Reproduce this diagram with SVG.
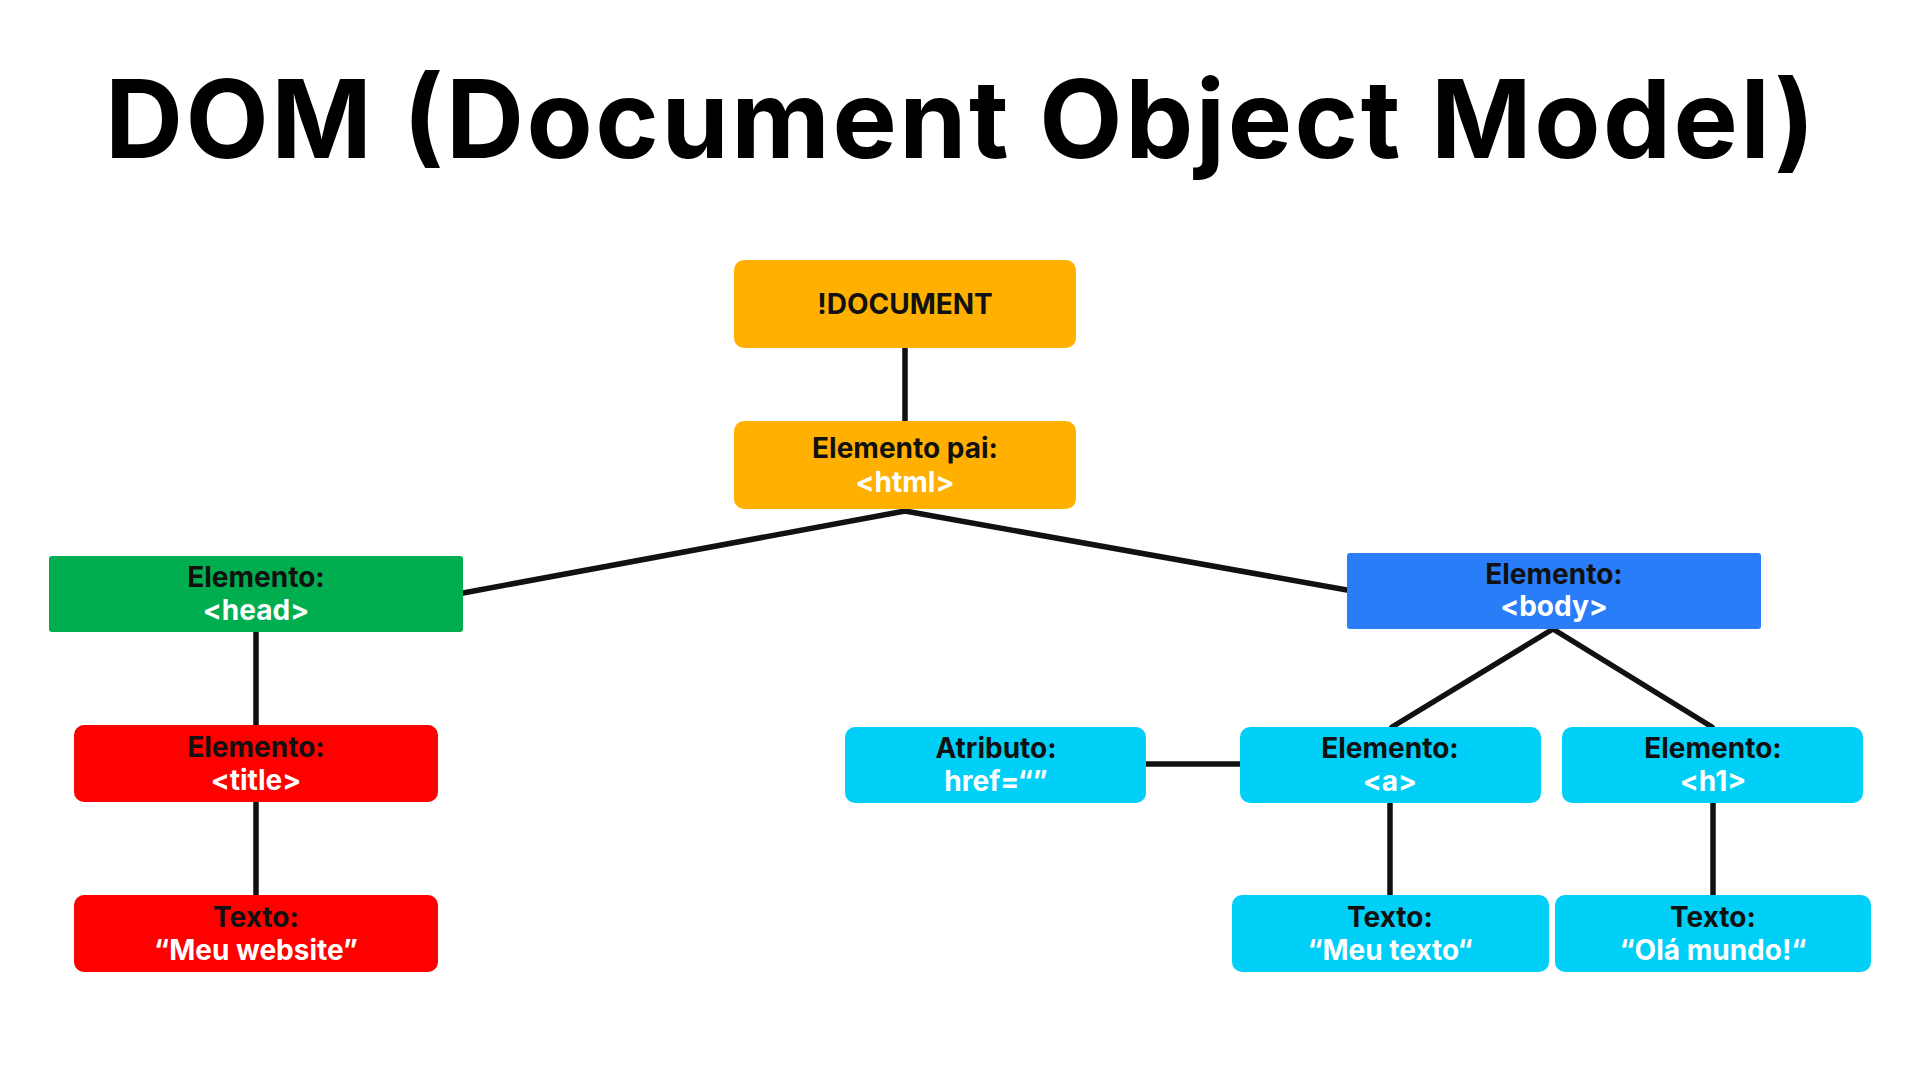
<svg xmlns="http://www.w3.org/2000/svg" width="1920" height="1080" viewBox="0 0 1920 1080">
<style>
.t1{font-family:Inter,"Noto Sans","Liberation Sans",sans-serif;font-weight:700;font-size:28px;fill:#111;text-anchor:middle}
.t2{font-family:Inter,"Noto Sans","Liberation Sans",sans-serif;font-weight:700;font-size:28px;fill:#fff;text-anchor:middle}
.orange{fill:#FFB000}
.green{fill:#00AE50}
.blue{fill:#2A7DF8}
.red{fill:#FF0000}
.cyan{fill:#00CFF7}
.conn line{stroke:#111;stroke-width:5.5;stroke-linecap:round}
</style>
<rect width="1920" height="1080" fill="#fff"/>
<text x="960" y="158" font-family="Inter,'Noto Sans','Liberation Sans',sans-serif" font-weight="700" font-size="108" fill="#000" text-anchor="middle" textLength="1710">DOM (Document Object Model)</text>
<g id="connectors" class="conn">
<line x1="905" y1="348" x2="905" y2="421"/>
<line x1="905" y1="511" x2="463" y2="593"/>
<line x1="905" y1="511" x2="1347" y2="590"/>
<line x1="256" y1="632" x2="256" y2="725"/>
<line x1="256" y1="802" x2="256" y2="895"/>
<line x1="1553" y1="629" x2="1392" y2="727"/>
<line x1="1553" y1="629" x2="1712" y2="727"/>
<line x1="1146" y1="764" x2="1240" y2="764"/>
<line x1="1390" y1="803" x2="1390" y2="895"/>
<line x1="1713" y1="803" x2="1713" y2="895"/>
</g>
<g id="document">
<rect class="orange" x="734" y="260" width="342" height="88" rx="10"/>
<text class="t1" x="905" y="314" font-size="30">!DOCUMENT</text>
</g>
<g id="html">
<rect class="orange" x="734" y="421" width="342" height="88" rx="10"/>
<text class="t1" x="905" y="458">Elemento pai:</text>
<text class="t2" x="905" y="492">&lt;html&gt;</text>
</g>
<g id="head">
<rect class="green" x="49" y="556" width="414" height="76" rx="3"/>
<text class="t1" x="256" y="587">Elemento:</text>
<text class="t2" x="256" y="620">&lt;head&gt;</text>
</g>
<g id="body">
<rect class="blue" x="1347" y="553" width="414" height="76" rx="3"/>
<text class="t1" x="1554" y="584">Elemento:</text>
<text class="t2" x="1554" y="616">&lt;body&gt;</text>
</g>
<g id="title">
<rect class="red" x="74" y="725" width="364" height="77" rx="10"/>
<text class="t1" x="256" y="757">Elemento:</text>
<text class="t2" x="256" y="790">&lt;title&gt;</text>
</g>
<g id="texto-website">
<rect class="red" x="74" y="895" width="364" height="77" rx="10"/>
<text class="t1" x="256" y="927">Texto:</text>
<text class="t2" x="256" y="960">“Meu website”</text>
</g>
<g id="atributo">
<rect class="cyan" x="845" y="727" width="301" height="76" rx="10"/>
<text class="t1" x="996" y="758">Atributo:</text>
<text class="t2" x="996" y="791">href=“”</text>
</g>
<g id="a">
<rect class="cyan" x="1240" y="727" width="301" height="76" rx="10"/>
<text class="t1" x="1390" y="758">Elemento:</text>
<text class="t2" x="1390" y="791">&lt;a&gt;</text>
</g>
<g id="h1">
<rect class="cyan" x="1562" y="727" width="301" height="76" rx="10"/>
<text class="t1" x="1713" y="758">Elemento:</text>
<text class="t2" x="1713" y="791">&lt;h1&gt;</text>
</g>
<g id="texto-a">
<rect class="cyan" x="1232" y="895" width="317" height="77" rx="10"/>
<text class="t1" x="1390" y="927">Texto:</text>
<text class="t2" x="1390" y="960">“Meu texto“</text>
</g>
<g id="texto-h1">
<rect class="cyan" x="1555" y="895" width="316" height="77" rx="10"/>
<text class="t1" x="1713" y="927">Texto:</text>
<text class="t2" x="1713" y="960">“Olá mundo!“</text>
</g>
</svg>
